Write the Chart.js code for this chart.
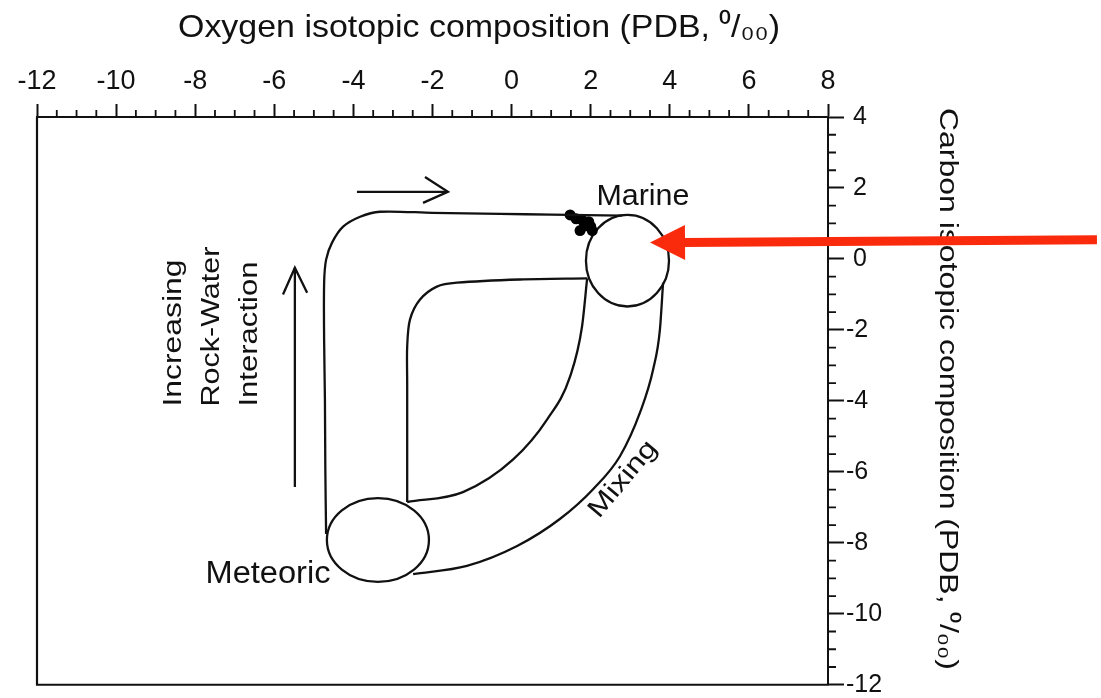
<!DOCTYPE html>
<html><head><meta charset="utf-8">
<script src="https://cdn.jsdelivr.net/npm/chart.js@4.4.1/dist/chart.umd.min.js"></script>
<style>html,body{margin:0;padding:0;background:#fff;}#wrap{width:1101px;height:698px;}</style>
</head><body><div id="wrap"><canvas id="c" width="1101" height="698"></canvas></div>
<script>
// ---------- data ----------
const xTicks = [-12, -10, -8, -6, -4, -2, 0, 2, 4, 6, 8];
const yTicks = [4, 2, 0, -2, -4, -6, -8, -10, -12];
const xMinorStep = 0.5;
const yMinorStep = 0.5;
const xTitle = 'Oxygen isotopic composition (PDB, \u2070/\u2080\u2080)';
const yTitle = 'Carbon isotopic composition (PDB, \u2070/\u2080\u2080)';

// delta18O (x), delta13C (y) paths
const outerLoop = [
  {x:2.79,y:1.22},{x:1.0,y:1.25},{x:-0.29,y:1.27},{x:-2.0,y:1.30},{x:-3.33,y:1.33},{x:-3.83,y:1.19},{x:-4.26,y:0.91},
  {x:-4.54,y:0.46},{x:-4.69,y:-0.02},{x:-4.74,y:-0.67},{x:-4.74,y:-2.3},{x:-4.72,y:-3.96},{x:-4.71,y:-5.9},{x:-4.69,y:-7.75}
];
const innerLoop = [
  {x:1.91,y:-0.55},{x:0.21,y:-0.58},{x:-1.38,y:-0.67},{x:-1.89,y:-0.78},{x:-2.32,y:-1.15},
  {x:-2.57,y:-1.71},{x:-2.64,y:-2.47},{x:-2.64,y:-3.5},{x:-2.64,y:-4.52},{x:-2.64,y:-5.7},{x:-2.64,y:-6.85}
];
const innerMixing = [
  {x:-2.64,y:-6.85},{x:-1.23,y:-6.57},{x:0.04,y:-5.65},{x:0.90,y:-4.52},
  {x:1.48,y:-3.31},{x:1.78,y:-1.91},{x:1.91,y:-0.55}
];
const outerMixing = [
  {x:-2.49,y:-8.88},{x:-1.13,y:-8.65},{x:0.14,y:-8.09},{x:1.22,y:-7.33},{x:2.06,y:-6.49},
  {x:2.74,y:-5.56},{x:3.25,y:-4.32},{x:3.58,y:-3.11},{x:3.75,y:-1.99},{x:3.83,y:-0.67}
];
const marineSamples = [
  {x:1.48,y:1.24},{x:1.63,y:1.13},{x:1.80,y:1.08},{x:1.95,y:1.05},
  {x:1.73,y:0.80},{x:2.04,y:0.80},{x:1.86,y:0.93},{x:2.00,y:0.92}
];
// ellipse fields: [centre x, centre y, half-width, half-height]
const marineField = [2.93, -0.05, 1.05, 1.29];
const meteoricField = [-3.38, -7.92, 1.29, 1.18];

const flowArrowShaft = [{x:-3.91,y:1.89},{x:-1.61,y:1.89}];
const flowArrowHead = [{x:-2.19,y:2.31},{x:-1.61,y:1.89},{x:-2.24,y:1.58}];
const upArrowShaft = [{x:-5.48,y:-6.43},{x:-5.48,y:-0.25}];
const upArrowHead = [{x:-5.78,y:-1.0},{x:-5.48,y:-0.25},{x:-5.17,y:-0.95}];
// red pointer: tail, tip
const pointerArrow = [{x:14.8,y:0.54},{x:3.5,y:0.46}];

const fieldLabels = ['Marine', 'Meteoric', 'Mixing'];
const processLabels = ['Increasing', 'Rock-Water', 'Interaction'];

// ---------- styles / layout ----------
const INK = '#111';
const RED = 'rgb(250,42,12)';
const FONT = '"Liberation Sans", Arial, Helvetica, sans-serif';

function fitText(ctx, text, x, y, angle, size, width, align, baseline) {
  ctx.save();
  ctx.translate(x, y);
  ctx.rotate(angle);
  ctx.font = size + 'px ' + FONT;
  const w = ctx.measureText(text).width;
  ctx.scale(width ? width / w : 1, 1);
  ctx.textAlign = align || 'center';
  ctx.textBaseline = baseline || 'middle';
  ctx.fillStyle = INK;
  ctx.fillText(text, 0, 0);
  ctx.restore();
}

const annotationLayout = [
  // [text, x(data), y(data), angle(deg), font px, width px, align]
  [fieldLabels[0], 3.32, 1.75, 0, 30, 93, 'center'],
  [fieldLabels[1], -6.16, -8.9, 0, 31, 125, 'center'],
  [fieldLabels[2], 2.82, -6.21, -50, 26, 92, 'center'],
  [processLabels[0], -8.54, -4.16, -90, 25, 147, 'left'],
  [processLabels[1], -7.58, -4.16, -90, 25, 160, 'left'],
  [processLabels[2], -6.61, -4.16, -90, 25, 145, 'left']
];

const decor = {
  id: 'decor',
  beforeDatasetsDraw(chart) {
    const {ctx, chartArea: a, scales: {x, y}} = chart;
    ctx.save();
    ctx.strokeStyle = INK;
    ctx.lineWidth = 2.2;
    ctx.beginPath();
    ctx.moveTo(a.left, a.top); ctx.lineTo(a.left, a.bottom); ctx.lineTo(a.right + 1, a.bottom);
    ctx.stroke();
    // minor ticks
    ctx.lineWidth = 1.8;
    ctx.beginPath();
    for (let v = x.min; v <= x.max + 1e-9; v += xMinorStep) {
      if (Math.abs(v / 2 - Math.round(v / 2)) < 1e-6) continue;
      const p = x.getPixelForValue(v);
      ctx.moveTo(p, a.top); ctx.lineTo(p, a.top - 7);
    }
    for (let v = y.min; v <= y.max + 1e-9; v += yMinorStep) {
      if (Math.abs(v / 2 - Math.round(v / 2)) < 1e-6) continue;
      const p = y.getPixelForValue(v);
      ctx.moveTo(a.right, p); ctx.lineTo(a.right + 8, p);
    }
    ctx.stroke();
    // ellipse fields
    ctx.lineWidth = 2.3;
    [marineField, meteoricField].forEach(e => {
      const cx = x.getPixelForValue(e[0]), cy = y.getPixelForValue(e[1]);
      const rx = x.getPixelForValue(e[0] + e[2]) - cx;
      const ry = y.getPixelForValue(e[1] - e[3]) - cy;
      ctx.beginPath();
      ctx.ellipse(cx, cy, rx, ry, 0, 0, Math.PI * 2);
      ctx.stroke();
    });
    // labels
    annotationLayout.forEach(l => {
      fitText(ctx, l[0], x.getPixelForValue(l[1]), y.getPixelForValue(l[2]),
        l[3] * Math.PI / 180, l[4], l[5], l[6]);
    });
    // axis titles
    fitText(ctx, xTitle, 479, 37, 0, 32, 602, 'center', 'alphabetic');
    fitText(ctx, yTitle, 940, 389, Math.PI / 2, 25, 562, 'center', 'alphabetic');
    ctx.restore();
  },
  afterDraw(chart) {
    const {ctx, scales: {x, y}} = chart;
    const tx = x.getPixelForValue(pointerArrow[0].x), ty = y.getPixelForValue(pointerArrow[0].y);
    const hx = x.getPixelForValue(pointerArrow[1].x), hy = y.getPixelForValue(pointerArrow[1].y);
    const ang = Math.atan2(hy - ty, hx - tx);
    const headLen = 35, headHalf = 17.5;
    const bx = hx - headLen * Math.cos(ang), by = hy - headLen * Math.sin(ang);
    ctx.save();
    ctx.strokeStyle = RED; ctx.fillStyle = RED;
    ctx.lineWidth = 9;
    ctx.beginPath(); ctx.moveTo(tx, ty); ctx.lineTo(bx + 2 * Math.cos(ang), by + 2 * Math.sin(ang)); ctx.stroke();
    ctx.beginPath();
    ctx.moveTo(hx, hy);
    ctx.lineTo(bx - headHalf * Math.sin(ang), by + headHalf * Math.cos(ang));
    ctx.lineTo(bx + headHalf * Math.sin(ang), by - headHalf * Math.cos(ang));
    ctx.closePath(); ctx.fill();
    ctx.restore();
  }
};

const curve = {showLine: true, pointRadius: 0, borderColor: INK, borderWidth: 2.3, tension: 0.3, fill: false};
const smooth = {showLine: true, pointRadius: 0, borderColor: INK, borderWidth: 2.3, tension: 0.4,
                cubicInterpolationMode: 'monotone', fill: false};
const straight = {showLine: true, pointRadius: 0, borderColor: INK, borderWidth: 2.3, tension: 0, fill: false};

new Chart(document.getElementById('c'), {
  type: 'scatter',
  data: {
    datasets: [
      Object.assign({label: 'outer loop', data: outerLoop}, curve),
      Object.assign({label: 'inner loop', data: innerLoop}, curve),
      Object.assign({label: 'inner mixing', data: innerMixing}, smooth),
      Object.assign({label: 'outer mixing', data: outerMixing}, smooth),
      Object.assign({label: 'flow shaft', data: flowArrowShaft}, straight),
      Object.assign({label: 'flow head', data: flowArrowHead}, straight),
      Object.assign({label: 'up shaft', data: upArrowShaft}, straight),
      Object.assign({label: 'up head', data: upArrowHead}, straight),
      {label: 'marine samples', data: marineSamples, showLine: false, pointRadius: 5.5,
       backgroundColor: '#000', borderColor: '#000', borderWidth: 0}
    ]
  },
  options: {
    responsive: false,
    animation: false,
    layout: {padding: {left: 37, top: 0, right: 0, bottom: 12}},
    plugins: {legend: {display: false}, tooltip: {enabled: false}},
    scales: {
      x: {
        type: 'linear', position: 'top', min: -12, max: 8,
        afterBuildTicks: s => { s.ticks = xTicks.map(v => ({value: v})); },
        afterFit: s => { s.height = 117; },
        ticks: {color: INK, font: {family: FONT, size: 27}, padding: 6, callback: v => String(v)},
        grid: {drawOnChartArea: false, tickLength: 13, tickWidth: 2, tickColor: INK},
        border: {display: true, color: INK, width: 2}
      },
      y: {
        type: 'linear', position: 'right', min: -12, max: 4,
        afterBuildTicks: s => { s.ticks = yTicks.map(v => ({value: v})); },
        afterFit: s => { s.width = 273; },
        ticks: {color: INK, font: {family: FONT, size: 25, lineHeight: 0.9}, padding: 2,
                callback: v => (v >= 0 ? ' ' : '') + String(v)},
        grid: {drawOnChartArea: false, tickLength: 16, tickWidth: 2, tickColor: INK},
        border: {display: true, color: INK, width: 2}
      }
    }
  },
  plugins: [decor]
});
</script>
</body></html>
